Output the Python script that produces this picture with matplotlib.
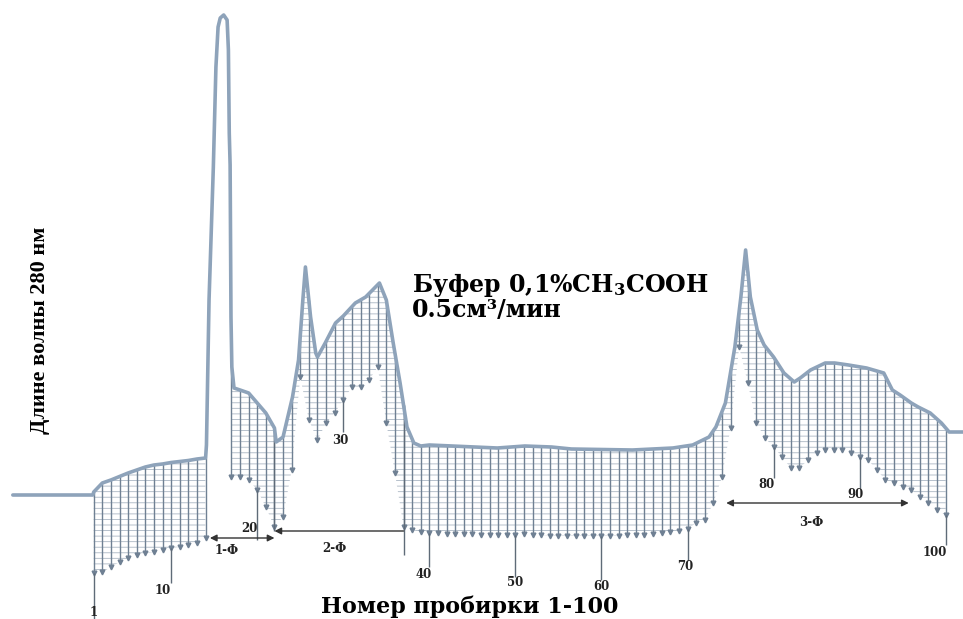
import numpy as np
import matplotlib.pyplot as plt

# elution curve, tube number (fractional between tubes) vs absorbance at 280 nm (rel. units)
curve_tube = [-8.4, 0.9, 1, 2, 3, 4, 5, 6, 7, 8, 9, 10, 11, 12, 13, 14,
              14.1, 14.4, 14.9, 15.2, 15.45, 15.7, 16.1, 16.5, 16.65, 16.75, 16.85, 16.95, 17.05,
              17.3, 18, 19, 20, 21, 22, 22.2, 23, 24.1, 24.8, 25.3, 25.6, 26.2, 26.8, 27.0,
              27.9, 29.1, 30, 31.4, 32.6, 34.2, 35.0, 35.8, 36.6, 37.4, 38.2, 39, 40,
              47.9, 51.1, 54.2, 56.5, 63.6, 68.3, 70.6, 72.5, 73.3, 74.4, 75.5, 76.2, 76.75,
              77.3, 78.1, 78.9, 80, 81.2, 82.4, 83.1, 84.3, 86.0, 87.1, 88.7, 90.8, 92.8,
              93.8, 94.7, 96.0, 96.8, 98.2, 99.5, 100.4, 104]
curve_abs = [0.0, 0.0, 0.03, 0.12, 0.15, 0.185, 0.22, 0.25, 0.28, 0.30, 0.31, 0.325, 0.335, 0.345, 0.36, 0.37,
             0.50, 1.95, 3.28, 4.28, 4.68, 4.77, 4.80, 4.75, 4.45, 3.62, 3.30, 1.78, 1.28,
             1.07, 1.05, 1.02, 0.92, 0.82, 0.67, 0.53, 0.58, 0.98, 1.35, 1.95, 2.28, 1.78, 1.42, 1.38,
             1.52, 1.72, 1.79, 1.92, 1.98, 2.12, 1.95, 1.52, 1.12, 0.68, 0.52, 0.49, 0.50,
             0.47, 0.49, 0.48, 0.46, 0.45, 0.47, 0.50, 0.58, 0.68, 0.92, 1.48, 1.98, 2.45,
             1.98, 1.65, 1.50, 1.38, 1.22, 1.13, 1.17, 1.25, 1.32, 1.32, 1.30, 1.27, 1.22,
             1.05, 1.00, 0.92, 0.88, 0.82, 0.72, 0.63, 0.63]

# tubes 1-100 and the lower end of each tube's drop line (nan = no line drawn)
tubes = np.arange(1, 101)
drop_bottom = np.array([
    -0.78, -0.77, -0.72, -0.67, -0.63, -0.60, -0.58, -0.57, -0.55, -0.53,
    -0.52, -0.50, -0.48, -0.43, np.nan, np.nan, 0.18, 0.18, 0.15, 0.05,
    -0.12, -0.32, -0.22, 0.25, 1.18, 0.75, 0.55, 0.72, 0.82, 0.95,
    1.08, 1.08, 1.15, 1.28, 0.72, 0.22, -0.32, -0.35, -0.37, -0.38,
    -0.38, -0.39, -0.39, -0.39, -0.39, -0.40, -0.40, -0.40, -0.40, -0.40,
    -0.39, -0.40, -0.40, -0.41, -0.41, -0.41, -0.41, -0.41, -0.41, -0.41,
    -0.41, -0.41, -0.40, -0.40, -0.40, -0.39, -0.38, -0.37, -0.36, -0.34,
    -0.28, -0.25, -0.08, 0.18, 0.67, 1.48, 1.12, 0.72, 0.57, 0.48,
    0.38, 0.27, 0.27, 0.35, 0.42, 0.45, 0.45, 0.45, 0.42, 0.38,
    0.35, 0.25, 0.15, 0.12, 0.08, 0.05, -0.02, -0.08, -0.15, -0.20])

# numbered tubes
mark_tubes = [1, 10, 20, 30, 40, 50, 60, 70, 80, 90, 100]
mark_end = [-1.24, -0.88, -0.45, 0.63, -0.72, -0.82, -0.85, -0.65, 0.17, 0.07, -0.50]

# fractions
frac_names = ['1-Ф', '2-Ф', '3-Ф']
frac_start = [14.5, 22, 74.5]
frac_end = [22, 37, 95.7]

plt.rcParams['font.family'] = ['Liberation Serif', 'DejaVu Serif']
plt.rcParams['font.weight'] = 'bold'
plt.rcParams['mathtext.default'] = 'regular'
plt.rcParams['hatch.linewidth'] = 0.6

curve_col = '#8ea3ba'
drop_col = '#6f8093'
hatch_col = '#aab6c3'
plt.rcParams['hatch.color'] = hatch_col
wide = ['DejaVu Serif']

fig = plt.figure(figsize=(9.63, 6.19), dpi=100)
ax = fig.add_axes([0, 0, 1, 1])
ax.set_xlim(-9.89, 102.01)
ax.set_ylim(-1.24, 4.95)
ax.axis('off')

# grid hatch between curve and drop ends
xd = np.linspace(1, 100, 3000)
valid = ~np.isnan(drop_bottom)
top_d = np.interp(xd, curve_tube, curve_abs)
bot_d = np.interp(xd, tubes[valid], drop_bottom[valid])
gap = (xd > 14) & (xd < 17)
ax.fill_between(xd, bot_d, top_d, where=~gap, facecolor='none', edgecolor=hatch_col,
                linewidth=0, hatch='---', zorder=1)

# drop lines
tops = np.interp(tubes, curve_tube, curve_abs)
ax.vlines(tubes[valid], drop_bottom[valid], tops[valid], color=drop_col, lw=1.0, zorder=2)
ax.plot(tubes[valid], drop_bottom[valid], 'v', color=drop_col, ms=3.4, zorder=2)

# numbered tube lines and labels
lab_dx = [0, -1.0, -0.9, -0.3, -0.7, 0, 0, -0.3, -0.8, -0.5, -1.3]
lab_y = [-1.18, -0.95, -0.33, 0.55, -0.80, -0.88, -0.91, -0.71, 0.10, 0.00, -0.57]
for t, e, dx, ly in zip(mark_tubes, mark_end, lab_dx, lab_y):
    b = drop_bottom[t - 1]
    ax.vlines(t, e, b, color='#5f6b78', lw=1.0, zorder=2)
    ax.text(t + dx, ly, str(t), ha='center', va='center', fontsize=8.5, color='#222222',
            family=wide)

# fraction arrows
frac_y = [-0.43, -0.36, -0.08]
frac_style = ['<|-|>', '<|-', '<|-|>']
frac_lab = [(16.4, -0.56), (29.0, -0.53), (84.4, -0.28)]
for name, s, e, y, st, (lx, ly) in zip(frac_names, frac_start, frac_end, frac_y, frac_style, frac_lab):
    ax.annotate('', xy=(e, y), xytext=(s, y),
                arrowprops=dict(arrowstyle=st, color='#333333', lw=1.0,
                                mutation_scale=10, shrinkA=0, shrinkB=0))
    ax.text(lx, ly, name, ha='center', va='center', fontsize=8.5, color='#222222', family=wide)
ax.vlines([22, 37], [-0.36, -0.60], np.interp([22, 37], curve_tube, curve_abs),
          color='#5f6b78', lw=1.0, zorder=2)

# elution curve
ax.plot(curve_tube, curve_abs, color=curve_col, lw=2.6, solid_joinstyle='round',
        solid_capstyle='round', zorder=3)

fig.text(412 / 963, 1 - 292 / 619, 'Буфер 0,1%CH$_3$COOH', fontsize=17, ha='left', va='baseline',
         family=wide)
fig.text(412 / 963, 1 - 317 / 619, '0.5см³/мин', fontsize=17, ha='left', va='baseline', family=wide)
fig.text(470 / 963, 1 - 607 / 619, 'Номер пробирки 1-100', fontsize=16, ha='center', va='center',
         family=wide)
fig.text(40 / 963, 1 - 330 / 619, 'Длине волны 280 нм', fontsize=16, rotation=90,
         ha='center', va='center')

fig.savefig('out.png', dpi=100)
